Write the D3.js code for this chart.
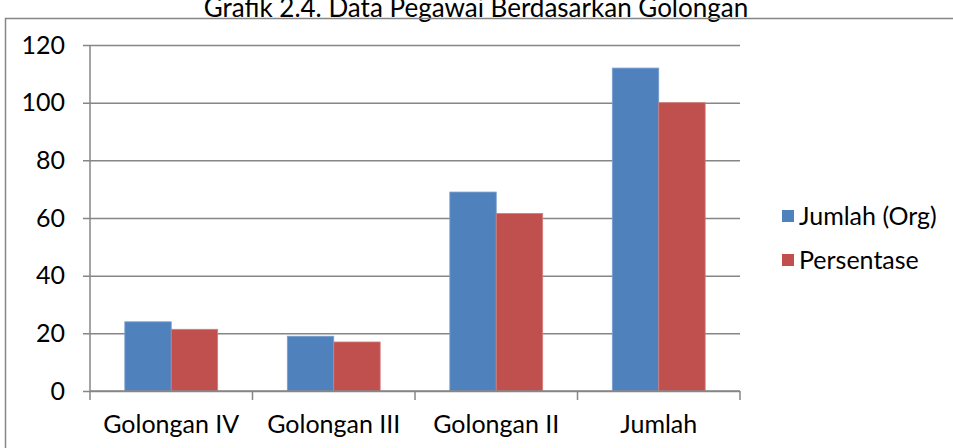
<!DOCTYPE html>
<html>
<head>
<meta charset="utf-8">
<script src="https://cdn.jsdelivr.net/npm/d3@7"></script>
<style>
  body { margin: 0; background: #fff; }
  svg { display: block; font-family: Lato, "Open Sans", sans-serif; }
</style>
</head>
<body>
<div class="container"></div>
<script>
var categories = ['Golongan IV', 'Golongan III', 'Golongan II', 'Jumlah'];
var seriesNames = ['Jumlah (Org)', 'Persentase'];
var jumlahOrg = [24, 19, 69, 112];
var persentase = [21.4, 17, 61.6, 100];
var yTicks = [0, 20, 40, 60, 80, 100, 120];
var colors = ['#4F81BD', '#C0504D'];

var drawChart = function () {
    const WIDTH = 953;
    const HEIGHT = 448;
    var plot = { left: 90, right: 740, top: 45, bottom: 391 };

    var svg = d3.select('.container')
        .append('svg')
        .attr('width', WIDTH)
        .attr('height', HEIGHT);

    // title sits partly above the window, like the cropped reference
    svg.append('text')
        .attr('x', 476)
        .attr('y', 17)
        .attr('text-anchor', 'middle')
        .style('font-size', '26px')
        .style('fill', '#000')
        .text('Grafik 2.4. Data Pegawai Berdasarkan Golongan');

    // outer chart frame (runs off the bottom/right of the window)
    svg.append('rect')
        .attr('x', 5.5)
        .attr('y', 18.5)
        .attr('width', WIDTH)
        .attr('height', HEIGHT)
        .style('fill', 'none')
        .style('stroke', '#868686')
        .style('stroke-width', 1.5);

    var x = d3.scaleBand()
        .domain(categories)
        .range([plot.left, plot.right]);

    var x1 = d3.scaleBand()
        .domain(seriesNames)
        .range([0, x.bandwidth()])
        .paddingInner(0)
        .paddingOuter(0.75);

    var y = d3.scaleLinear()
        .domain([0, 120])
        .range([plot.bottom, plot.top]);

    // gridlines + y axis
    var yAxis = svg.append('g')
        .attr('transform', 'translate(' + plot.left + ',0)')
        .call(d3.axisLeft(y).tickValues(yTicks).tickSize(-(plot.right - plot.left)).tickSizeOuter(0).tickPadding(25));
    yAxis.select('.domain').remove();
    yAxis.selectAll('.tick line')
        .attr('x1', -7)
        .style('stroke', '#868686')
        .style('stroke-width', 1.5);
    yAxis.selectAll('.tick text')
        .style('font-size', '25px')
        .style('font-family', 'Lato, "Open Sans", sans-serif')
        .style('fill', '#000');

    svg.append('line')
        .attr('x1', plot.left)
        .attr('x2', plot.left)
        .attr('y1', plot.top)
        .attr('y2', plot.bottom)
        .style('stroke', '#868686')
        .style('stroke-width', 1.5);

    var data = categories.map(function (c, i) {
        return { cat: c, values: [jumlahOrg[i], persentase[i]] };
    });

    var groups = svg.append('g')
        .selectAll('g')
        .data(data)
        .enter()
        .append('g')
        .attr('transform', function (d) { return 'translate(' + x(d.cat) + ',0)'; });

    groups.selectAll('rect')
        .data(function (d) {
            return d.values.map(function (v, k) { return { name: seriesNames[k], value: v, k: k }; });
        })
        .enter()
        .append('rect')
        .attr('x', function (d) { return x1(d.name); })
        .attr('width', x1.bandwidth())
        .attr('y', function (d) { return y(d.value); })
        .attr('height', function (d) { return y(0) - y(d.value); })
        .style('fill', function (d) { return colors[d.k]; })
        .style('stroke', function (d) { return d.k === 0 ? '#7a9fd0' : '#d27e7c'; })
        .style('stroke-width', 0.8);

    // x axis with category ticks
    var xAxis = svg.append('g')
        .attr('transform', 'translate(0,' + plot.bottom + ')');
    xAxis.append('line')
        .attr('x1', plot.left)
        .attr('x2', plot.right)
        .style('stroke', '#868686')
        .style('stroke-width', 1.5);
    var bounds = categories.map(function (c) { return x(c); }).concat([plot.right]);
    xAxis.selectAll('.ctick')
        .data(bounds)
        .enter()
        .append('line')
        .attr('x1', function (d) { return d; })
        .attr('x2', function (d) { return d; })
        .attr('y1', 0)
        .attr('y2', 9)
        .style('stroke', '#868686')
        .style('stroke-width', 1.5);
    xAxis.selectAll('.clabel')
        .data(categories)
        .enter()
        .append('text')
        .attr('x', function (d) { return x(d) + x.bandwidth() / 2; })
        .attr('y', 42)
        .attr('text-anchor', 'middle')
        .style('font-size', '25px')
        .style('fill', '#000')
        .text(function (d) { return d; });

    // legend
    var legend = svg.append('g')
        .selectAll('g')
        .data(seriesNames)
        .enter()
        .append('g')
        .attr('transform', function (d, i) { return 'translate(782,' + (210 + i * 44) + ')'; });
    legend.append('rect')
        .attr('width', 12)
        .attr('height', 12)
        .style('fill', function (d, i) { return colors[i]; });
    legend.append('text')
        .attr('x', 17)
        .attr('y', 15)
        .style('font-size', '25px')
        .style('fill', '#000')
        .text(function (d) { return d; });
};
window.onload = drawChart;
</script>
</body>
</html>
